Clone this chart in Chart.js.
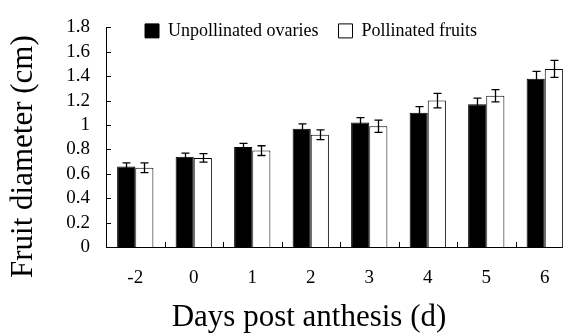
<!DOCTYPE html>
<html><head><meta charset="utf-8">
<script src="https://cdn.jsdelivr.net/npm/chart.js@4/dist/chart.umd.min.js"></script>
<style>html,body{margin:0;padding:0;overflow:hidden;background:#fff;} #wrap{width:618px;height:333px;}</style>
</head><body><div id="wrap"><canvas id="c" width="618" height="333"></canvas></div>
<script>
const categories = ['-2', '0', '1', '2', '3', '4', '5', '6'];
const unpollinated = [0.66, 0.74, 0.82, 0.97, 1.02, 1.10, 1.17, 1.38];
const unpollinatedErr = [0.03, 0.03, 0.03, 0.04, 0.04, 0.05, 0.05, 0.06];
const pollinated = [0.65, 0.73, 0.79, 0.92, 0.99, 1.20, 1.24, 1.46];
const pollinatedErr = [0.04, 0.035, 0.04, 0.04, 0.05, 0.06, 0.05, 0.07];
const yTickValues = [0, 0.2, 0.4, 0.6, 0.8, 1, 1.2, 1.4, 1.6, 1.8];
const yTickLabels = ['0', '0.2', '0.4', '0.6', '0.8', '1', '1.2', '1.4', '1.6', '1.8'];

const FONT = 'Liberation Serif';

const errorBars = {
  id: 'errorBars',
  afterDatasetsDraw(chart) {
    const ctx = chart.ctx, y = chart.scales.y;
    chart.data.datasets.forEach((ds, di) => {
      const meta = chart.getDatasetMeta(di);
      meta.data.forEach((bar, i) => {
        const v = ds.data[i], e = ds.errors[i];
        const yt = y.getPixelForValue(v + e), yb = y.getPixelForValue(v - e);
        const x = Math.round(bar.x) + 0.5;
        ctx.save();
        ctx.strokeStyle = '#000';
        ctx.lineWidth = 1.3;
        ctx.beginPath();
        ctx.moveTo(x, yt); ctx.lineTo(x, yb);
        ctx.moveTo(x - 4, yt); ctx.lineTo(x + 4, yt);
        ctx.moveTo(x - 4, yb); ctx.lineTo(x + 4, yb);
        ctx.stroke();
        ctx.restore();
      });
    });
  }
};

const innerTicksAndLegend = {
  id: 'innerTicks',
  afterDraw(chart) {
    const {ctx, chartArea: a, scales: {x, y}} = chart;
    ctx.save();
    ctx.strokeStyle = '#000';
    ctx.lineWidth = 1;
    ctx.beginPath();
    y.ticks.forEach(t => {
      const py = Math.round(y.getPixelForValue(t.value)) + 0.5;
      ctx.moveTo(a.left, py); ctx.lineTo(a.left + 5, py);
    });
    for (let i = 0; i < categories.length - 1; i++) {
      const px = Math.round((x.getPixelForValue(i) + x.getPixelForValue(i + 1)) / 2) + 0.5;
      ctx.moveTo(px, a.bottom); ctx.lineTo(px, a.bottom - 5);
    }
    ctx.stroke();
    ctx.restore();
    // legend sits inside the plot area: draw it without the legend box clip
    if (chart.legend && chart.legend._draw) {
      ctx.save();
      ctx.translate(2, -6);
      chart.legend._draw();
      ctx.restore();
    }
  }
};

new Chart(document.getElementById('c'), {
  type: 'bar',
  data: {
    labels: categories,
    datasets: [
      { label: 'Unpollinated ovaries', data: unpollinated, errors: unpollinatedErr,
        backgroundColor: '#000', borderColor: '#000', borderWidth: 1 },
      { label: 'Pollinated fruits', data: pollinated, errors: pollinatedErr,
        backgroundColor: '#fff', borderColor: '#000', borderWidth: 1 }
    ]
  },
  options: {
    responsive: false,
    animation: false,
    devicePixelRatio: 1,
    layout: { padding: 0 },
    datasets: { bar: { categoryPercentage: 0.62, barPercentage: 1 } },
    plugins: {
      tooltip: { enabled: false },
      legend: {
        position: 'top',
        maxHeight: 19.5,
        labels: { boxWidth: 14, boxHeight: 14, padding: 20, color: '#000',
          font: { family: FONT, size: 18 } }
      },
      title: {
        display: true, position: 'bottom', text: 'Days post anthesis (d)', color: '#000',
        font: { family: FONT, size: 31, weight: 'normal', lineHeight: 1 },
        padding: { top: 0, bottom: 0 }
      }
    },
    scales: {
      x: {
        type: 'category',
        offset: true,
        grid: { display: false, drawTicks: false },
        border: { display: true, color: '#000', width: 1 },
        ticks: { color: '#000', padding: 19.5, autoSkip: false, maxRotation: 0, font: { family: FONT, size: 19 } },
        afterFit(s) { s.height = 55; }
      },
      y: {
        position: 'left',
        min: 0, max: 1.8,
        afterBuildTicks(s) { s.ticks = yTickValues.map(v => ({ value: v })); },
        grid: { display: false, drawTicks: false },
        border: { display: true, color: '#000', width: 1 },
        ticks: { color: '#000', padding: 16, autoSkip: false, font: { family: FONT, size: 19 },
          callback: (v, i) => yTickLabels[i] },
        title: { display: true, text: 'Fruit diameter (cm)     ', color: '#000',
          font: { family: FONT, size: 31, lineHeight: 1 }, padding: { top: 8.5, bottom: 0 } },
        afterFit(s) { s.width = 106; }
      },
      y2: {
        type: 'linear', position: 'right',
        grid: { display: false, drawTicks: false },
        border: { display: false },
        ticks: { display: false },
        afterFit(s) { s.width = 44; }
      }
    }
  },
  plugins: [errorBars, innerTicksAndLegend]
});
</script>
</body></html>
